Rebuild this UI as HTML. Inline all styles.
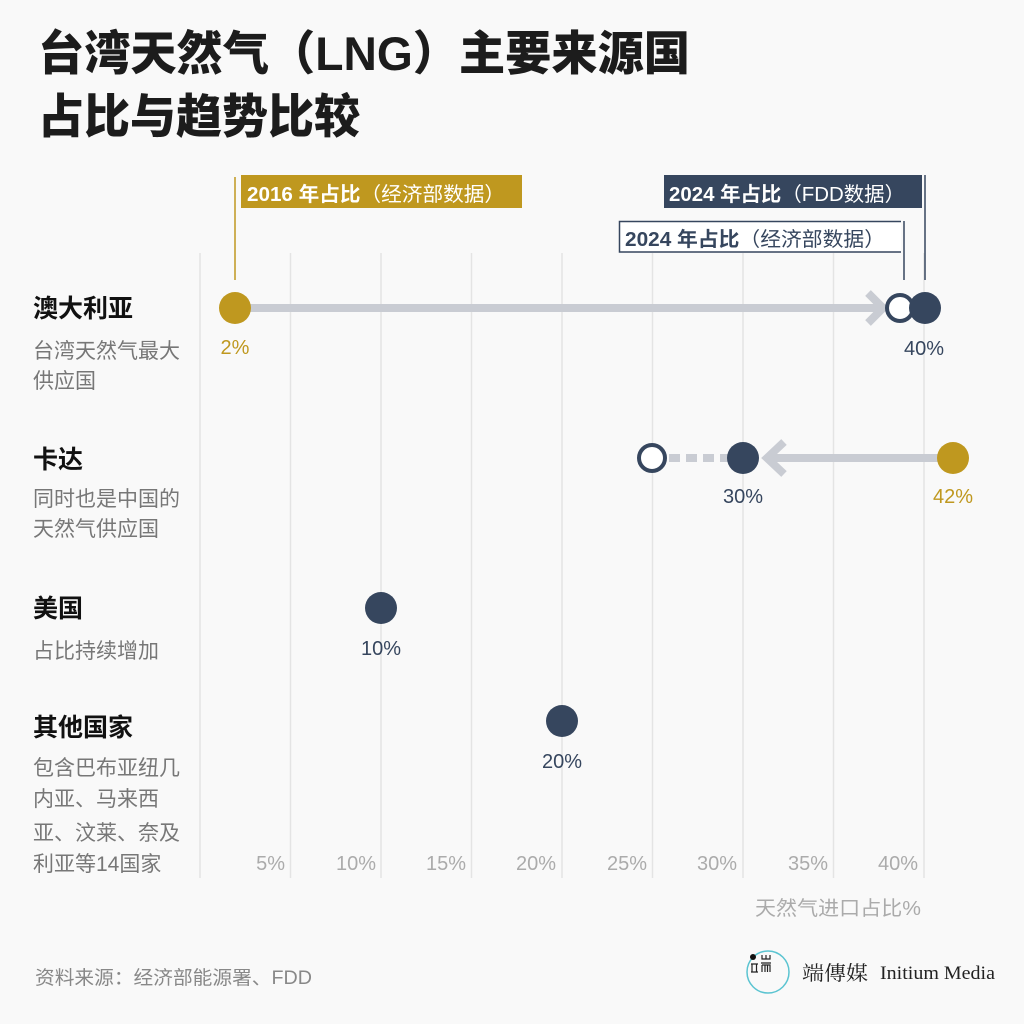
<!DOCTYPE html>
<html><head><meta charset="utf-8">
<style>
html,body{margin:0;padding:0;background:#f9f9f9;}
svg{display:block;}
text{font-family:"Liberation Sans","Noto Sans CJK SC",sans-serif;}
</style></head>
<body>
<svg width="1024" height="1024" viewBox="0 0 1024 1024" xmlns="http://www.w3.org/2000/svg">
<rect width="1024" height="1024" fill="#f9f9f9"/>
<!-- title -->
<text x="38" y="70" font-size="47" font-weight="900" fill="#1c1c1c" textLength="652" lengthAdjust="spacingAndGlyphs">台湾天然气（LNG）主要来源国</text>
<text x="38" y="133" font-size="47" font-weight="900" fill="#1c1c1c" textLength="322" lengthAdjust="spacingAndGlyphs">占比与趋势比较</text>

<!-- gridlines -->
<g stroke="#e4e4e4" stroke-width="1.5">
<line x1="200" y1="253" x2="200" y2="878"/>
<line x1="290.5" y1="253" x2="290.5" y2="878"/>
<line x1="381" y1="253" x2="381" y2="878"/>
<line x1="471.5" y1="253" x2="471.5" y2="878"/>
<line x1="562" y1="253" x2="562" y2="878"/>
<line x1="652.5" y1="253" x2="652.5" y2="878"/>
<line x1="743" y1="253" x2="743" y2="878"/>
<line x1="833.5" y1="253" x2="833.5" y2="878"/>
<line x1="924" y1="253" x2="924" y2="878"/>
</g>
<!-- tick labels -->
<g font-size="20" fill="#ababab" text-anchor="end">
<text x="285" y="870">5%</text>
<text x="376" y="870">10%</text>
<text x="466" y="870">15%</text>
<text x="556" y="870">20%</text>
<text x="647" y="870">25%</text>
<text x="737" y="870">30%</text>
<text x="828" y="870">35%</text>
<text x="918" y="870">40%</text>
</g>
<text x="755" y="915" font-size="20" fill="#ababab" textLength="166" lengthAdjust="spacingAndGlyphs">天然气进口占比%</text>

<!-- legend boxes -->
<line x1="235" y1="177" x2="235" y2="280" stroke="#bf981f" stroke-width="1.5"/>
<rect x="241" y="175" width="281" height="33" fill="#bf981f"/>
<text x="247" y="201" font-size="20" fill="#ffffff" textLength="258" lengthAdjust="spacingAndGlyphs"><tspan font-weight="700">2016 年占比</tspan><tspan>（经济部数据）</tspan></text>

<line x1="925" y1="175" x2="925" y2="280" stroke="#36465e" stroke-width="1.5"/>
<rect x="664" y="175" width="258" height="33" fill="#36465e"/>
<text x="669" y="201" font-size="20" fill="#ffffff" textLength="236" lengthAdjust="spacingAndGlyphs"><tspan font-weight="700">2024 年占比</tspan><tspan>（FDD数据）</tspan></text>

<line x1="904" y1="221" x2="904" y2="280" stroke="#36465e" stroke-width="1.5"/>
<path d="M901 221.5 H619.5 V252 H901" fill="#ffffff" stroke="#36465e" stroke-width="1.5"/>
<text x="625" y="246" font-size="20" fill="#36465e" textLength="260" lengthAdjust="spacingAndGlyphs"><tspan font-weight="700">2024 年占比</tspan><tspan>（经济部数据）</tspan></text>

<!-- Australia -->
<line x1="235" y1="308" x2="878" y2="308" stroke="#c9ccd3" stroke-width="8"/>
<polyline points="868,293 883,308 868,323" fill="none" stroke="#c9ccd3" stroke-width="8"/>
<circle cx="235" cy="308" r="16" fill="#bf981f"/>
<circle cx="900" cy="308" r="13" fill="#ffffff" stroke="#36465e" stroke-width="4"/>
<circle cx="925" cy="308" r="16" fill="#36465e"/>
<text x="235" y="354" font-size="20" fill="#bf981f" text-anchor="middle">2%</text>
<text x="924" y="355" font-size="20" fill="#36465e" text-anchor="middle">40%</text>

<!-- Qatar -->
<line x1="953" y1="458" x2="768" y2="458" stroke="#c9ccd3" stroke-width="8"/>
<polyline points="784,442 767,458 784,474" fill="none" stroke="#c9ccd3" stroke-width="8"/>
<line x1="669" y1="458" x2="728" y2="458" stroke="#c9ccd3" stroke-width="8" stroke-dasharray="11,6"/>
<circle cx="953" cy="458" r="16" fill="#bf981f"/>
<circle cx="652" cy="458" r="13" fill="#ffffff" stroke="#36465e" stroke-width="4"/>
<circle cx="743" cy="458" r="16" fill="#36465e"/>
<text x="743" y="503" font-size="20" fill="#36465e" text-anchor="middle">30%</text>
<text x="953" y="503" font-size="20" fill="#bf981f" text-anchor="middle">42%</text>

<!-- US -->
<circle cx="381" cy="608" r="16" fill="#36465e"/>
<text x="381" y="655" font-size="20" fill="#36465e" text-anchor="middle">10%</text>

<!-- Others -->
<circle cx="562" cy="721" r="16" fill="#36465e"/>
<text x="562" y="768" font-size="20" fill="#36465e" text-anchor="middle">20%</text>

<!-- left labels -->
<g font-weight="700" font-size="25" fill="#111111">
<text x="33" y="317">澳大利亚</text>
<text x="33" y="468">卡达</text>
<text x="33" y="617">美国</text>
<text x="33" y="736">其他国家</text>
</g>
<g font-size="21" fill="#777777">
<text x="33" y="358">台湾天然气最大</text>
<text x="33" y="388">供应国</text>
<text x="33" y="506">同时也是中国的</text>
<text x="33" y="536">天然气供应国</text>
<text x="33" y="658">占比持续增加</text>
<text x="33" y="775">包含巴布亚纽几</text>
<text x="33" y="806">内亚、马来西</text>
<text x="33" y="840">亚、汶莱、奈及</text>
<text x="33" y="871">利亚等14国家</text>
</g>

<!-- source -->
<text x="35" y="984" font-size="19" fill="#888888" textLength="277" lengthAdjust="spacingAndGlyphs">资料来源：经济部能源署、FDD</text>

<!-- logo -->
<circle cx="768" cy="972" r="21" fill="none" stroke="#5bc4d1" stroke-width="1.5"/>
<circle cx="753" cy="957" r="3" fill="#111"/>
<g stroke="#222" stroke-width="1.2" fill="none">
<path d="M751 964 H758 M752 964 V972 M756.5 964 V972 M751 972 H758"/>
<path d="M762 955 V959 H770 V955 M766 955 V959"/>
<path d="M761 963 H771 M762 965 V972 M762 965 H770 V972 M765 965 V972 M767.5 965 V972"/>
</g>
<text x="802" y="980" font-size="20" fill="#222" style="font-family:'Noto Serif CJK SC','Noto Serif CJK TC',serif" textLength="66" lengthAdjust="spacingAndGlyphs">端傳媒</text>
<text x="880" y="979" font-size="19" fill="#222" style="font-family:'Liberation Serif',serif" textLength="115" lengthAdjust="spacingAndGlyphs">Initium Media</text>
</svg>
</body></html>
